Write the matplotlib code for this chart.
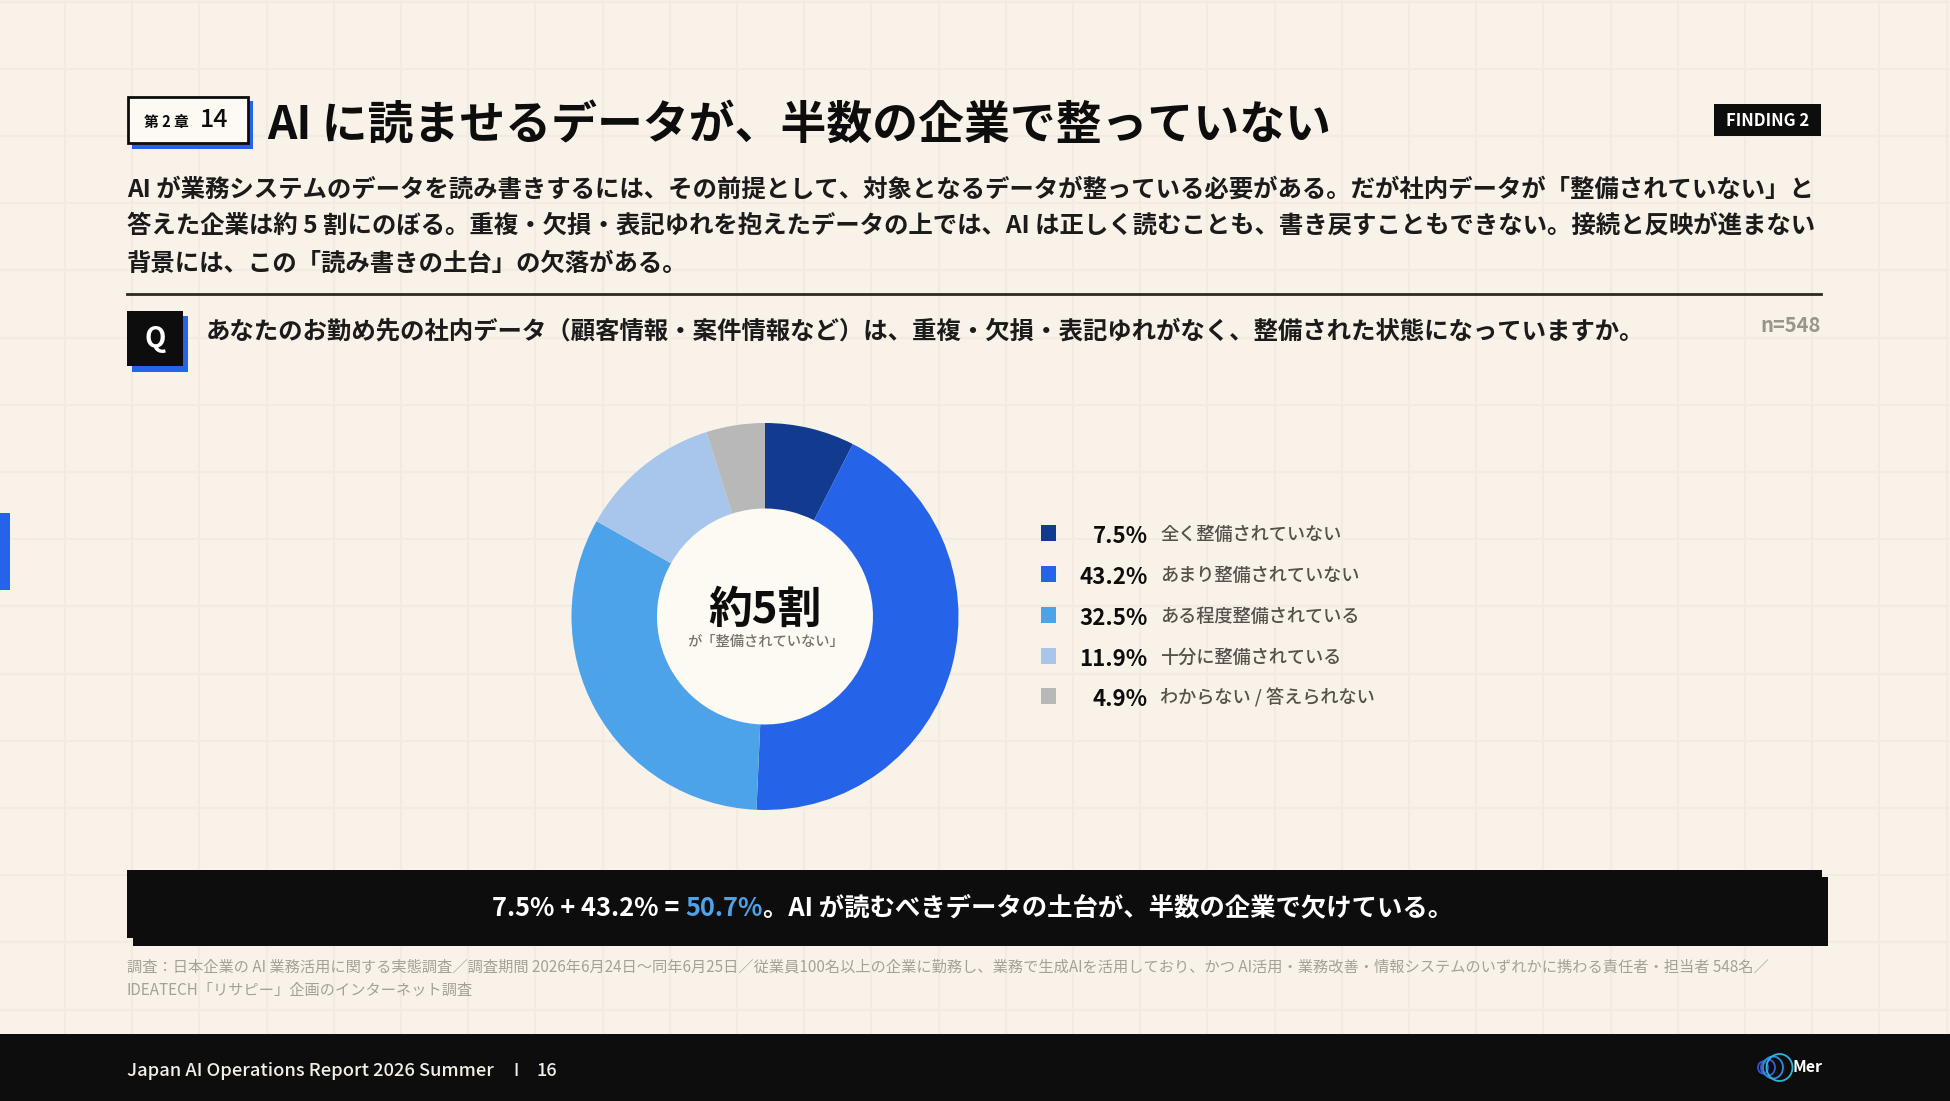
import matplotlib
matplotlib.use("Agg")
import matplotlib.pyplot as plt
from matplotlib.patches import Rectangle, Ellipse
import numpy as np

plt.rcParams['font.family'] = ['Noto Sans CJK JP', 'DejaVu Sans']

W, H = 1950, 1101
BG = '#F8F2E9'
GRID = '#F2EBE1'
INK = '#0D0D0D'
BLUE = '#2563E8'
CREAM = '#FDFAF3'

labels = ['全く整備されていない', 'あまり整備されていない', 'ある程度整備されている',
          '十分に整備されている', 'わからない / 答えられない']
values = [7.5, 43.2, 32.5, 11.9, 4.9]
colors = ['#123A8F', '#2563E8', '#4DA3EA', '#A8C5EB', '#B8B8B8']

title = 'AI に読ませるデータが、半数の企業で整っていない'
body = ['AI が業務システムのデータを読み書きするには、その前提として、対象となるデータが整っている必要がある。だが社内データが「整備されていない」と',
        '答えた企業は約 5 割にのぼる。重複・欠損・表記ゆれを抱えたデータの上では、AI は正しく読むことも、書き戻すこともできない。接続と反映が進まない',
        '背景には、この「読み書きの土台」の欠落がある。']
question = 'あなたのお勤め先の社内データ（顧客情報・案件情報など）は、重複・欠損・表記ゆれがなく、整備された状態になっていますか。'
notes = ['調査：日本企業の AI 業務活用に関する実態調査／調査期間 2026年6月24日〜同年6月25日／従業員100名以上の企業に勤務し、業務で生成AIを活用しており、かつ AI活用・業務改善・情報システムのいずれかに携わる責任者・担当者 548名／',
         'IDEATECH「リサピー」企画のインターネット調査']
summary = [('7.5% + 43.2% = ', 'white'), ('50.7%', '#4DA3EA'),
           ('。AI が読むべきデータの土台が、半数の企業で欠けている。', 'white')]

fig = plt.figure(figsize=(W / 100, H / 100), dpi=100, facecolor=BG)
ax = fig.add_axes([0, 0, 1, 1])
ax.set_xlim(0, W)
ax.set_ylim(H, 0)
ax.axis('off')


def rect(x0, y0, x1, y1, fc, ec='none', lw=0, z=2):
    ax.add_patch(Rectangle((x0, y0), x1 - x0, y1 - y0, facecolor=fc, edgecolor=ec, linewidth=lw, zorder=z))


def put(x, y, s, size, color=INK, weight='bold', ha='left', z=5):
    return ax.text(x, y, s, fontsize=size, color=color, fontweight=weight, ha=ha, va='center', zorder=z)


# background grid
for gx in np.arange(-2.2, W, 67.2):
    ax.plot([gx, gx], [0, H], color=GRID, lw=1.5, zorder=1)
for gy in np.arange(1.6, H, 67.2):
    ax.plot([0, W], [gy, gy], color=GRID, lw=1.5, zorder=1)

rect(0, 513, 10, 590, BLUE)

# header
rect(132, 101, 253, 149, BLUE)
rect(127.5, 96.5, 247.5, 143, CREAM, INK, 2, z=3)
put(144, 122.5, '第 2 章', 10.6)
put(200, 120, '14', 18, weight='medium')
put(267, 126, title, 33)
rect(1714, 104, 1821, 136, INK)
put(1767.5, 120.5, 'FINDING 2', 12, color='white', ha='center')

for yy, line in zip([190, 226, 264], body):
    put(127, yy, line, 17.6, color='#1B1B1B')
ax.plot([127, 1821], [294, 294], color='#2A2A25', lw=2, zorder=3)

rect(132, 316, 188, 372, BLUE)
rect(127, 311, 183, 366, INK, z=3)
put(155, 339, 'Q', 20, color='white', ha='center')
put(206, 331, question, 17.6, color='#1B1B1B')
put(1821, 326, 'n=548', 14.5, color='#9A958C', ha='right')

# donut
cx, cy, r = 765, 616.5, 193.5
dax = fig.add_axes([(cx - r) / W, 1 - (cy + r) / H, 2 * r / W, 2 * r / H])
dax.pie(values, colors=colors, startangle=90, counterclock=False, radius=1,
        wedgeprops=dict(width=1 - 108 / 193.5, linewidth=0))
dax.add_patch(plt.Circle((0, 0), 108 / 193.5, color=CREAM, zorder=0))
dax.set_xlim(-1, 1)
dax.set_ylim(-1, 1)
dax.patch.set_alpha(0)
dax.set_zorder(2)
fig.text(cx / W, 1 - 610 / H, '約5割', fontsize=31.5, fontweight='bold', color=INK,
         ha='center', va='center', zorder=10)
fig.text(cx / W, 1 - 642 / H, 'が「整備されていない」', fontsize=10.3, fontweight='medium', color='#77736B',
         ha='center', va='center', zorder=10)

# legend
for yy, lab, val, col in zip([533, 574, 615, 656, 696], labels, values, colors):
    rect(1040.5, yy - 8, 1055.5, yy + 8, col)
    put(1147.5, yy + 3.5, f'{val:.1f}%', 16, ha='right')
    put(1160, yy + 1.5, lab, 13.1, color='#55524B', weight='medium')

# summary bar
rect(133, 877, 1828, 945.5, INK)
rect(127, 870, 1822, 938, INK)
fig.canvas.draw()
rend = fig.canvas.get_renderer()
tx = 492
for s, col in summary:
    t = put(tx, 908, s, 18.3, color=col)
    tx += t.get_window_extent(rend).width

for yy, line in zip([967, 990], notes):
    put(127, yy, line, 10.96, color='#A5A198', weight='regular')

# footer
rect(0, 1034, W, H, INK)
put(127, 1071, 'Japan AI Operations Report 2026 Summer', 13.2, color='#F4EFE6', weight='medium')
put(513, 1071, 'I', 12, color='#F4EFE6', weight='medium')
put(536, 1071, '16', 13, color='#F4EFE6', weight='medium')
for ex, ew, eh, col in [(1763, 10, 12, '#3A4FD0'), (1768, 14, 16, '#3A5FD0'),
                        (1773, 20, 22, '#2E8BD8'), (1779.5, 26, 27, '#2FB5DA')]:
    ax.add_patch(Ellipse((ex, 1067.5), ew, eh, fill=False, edgecolor=col, lw=1.3, zorder=4))
put(1793, 1067, 'Mer', 11.5, color='white')

fig.savefig('out.png', dpi=100, facecolor=BG)
